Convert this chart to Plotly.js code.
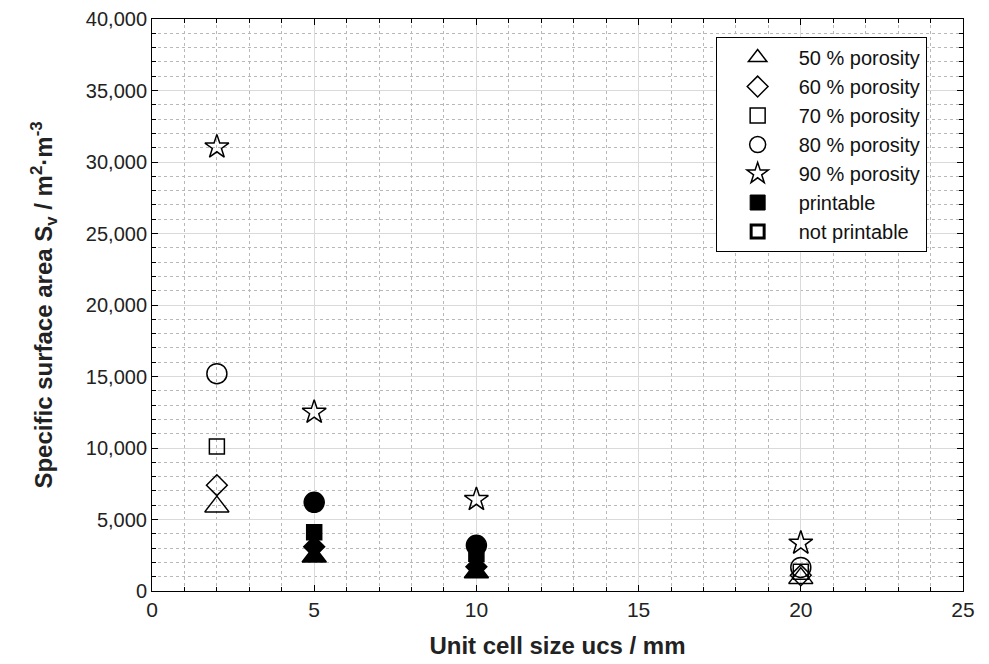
<!DOCTYPE html>
<html><head><meta charset="utf-8">
<script src="https://cdn.plot.ly/plotly-3.0.1.min.js"></script>
<style>html,body{margin:0;padding:0;background:#fff}#chart{width:989px;height:664px}</style>
</head><body><div id="chart"></div>
<script>
// Data
const ucs = [2, 5, 10, 20];
const por50 = [5900, 2400, 1300, 900];
const por60 = [7400, 3100, 1700, 1100];
const por70 = [10100, 4100, 2600, 1350];
const por80 = [15200, 6200, 3200, 1650];
const por90 = [31050, 12500, 6400, 3350];
const printable50 = [false, true, true, false];
const printable60 = [false, true, true, false];
const printable70 = [false, true, true, false];
const printable80 = [false, true, true, false];
const printable90 = [false, false, false, false];
const seriesNames = ['50 % porosity', '60 % porosity', '70 % porosity', '80 % porosity', '90 % porosity'];
const seriesValues = [por50, por60, por70, por80, por90];
const seriesPrintable = [printable50, printable60, printable70, printable80, printable90];
const seriesSymbols = ['triangle-up', 'diamond', 'square', 'circle', 'star'];
const seriesSizes = [21, 16, 15, 20, 18];

const traces = [];
seriesValues.forEach((vals, i) => {
  traces.push({
    type: 'scatter', mode: 'markers', x: ucs, y: vals, showlegend: false,
    hoverinfo: 'x+y',
    marker: {
      symbol: seriesPrintable[i].map(p => p ? seriesSymbols[i] : seriesSymbols[i] + '-open'),
      size: seriesSizes[i], color: '#000', line: {color: '#000', width: 1.5}
    }
  });
});
seriesNames.forEach((n, i) => {
  traces.push({
    type: 'scatter', mode: 'markers', x: [null], y: [null], name: n, showlegend: true,
    marker: {symbol: seriesSymbols[i] + '-open', size: seriesSizes[i], color: '#000', line: {color: '#000', width: 1.5}}
  });
});
traces.push({type: 'scatter', mode: 'markers', x: [null], y: [null], name: 'printable',
  marker: {symbol: 'square', size: 15, color: '#000', line: {color: '#000', width: 1}}});
traces.push({type: 'scatter', mode: 'markers', x: [null], y: [null], name: 'not printable',
  marker: {symbol: 'square-open', size: 13, color: '#000', line: {color: '#000', width: 3}}});

const axisCommon = {
  showline: true, linecolor: '#000', linewidth: 1, mirror: 'ticks',
  ticks: 'inside', ticklen: 6, tickcolor: '#000', tickwidth: 1,
  showgrid: true, gridcolor: '#dadada', gridwidth: 1, zeroline: false,
};
const layout = {
  width: 989, height: 664,
  margin: {l: 152, r: 26, t: 19, b: 73},
  paper_bgcolor: '#fff', plot_bgcolor: '#fff',
  font: {family: 'Liberation Sans, Arial, sans-serif', color: '#222'},
  xaxis: Object.assign({}, axisCommon, {
    range: [0, 25], dtick: 5, tick0: 0,
    tickfont: {size: 21, color: '#222'},
    minor: {dtick: 1, showgrid: true, gridcolor: '#b8b8b8', griddash: 'dot', ticks: 'inside', ticklen: 4, tickcolor: '#000'},
    title: {text: '<b>Unit cell size ucs / mm</b>', font: {size: 24, color: '#222'}, standoff: 16}
  }),
  yaxis: Object.assign({}, axisCommon, {
    range: [0, 40000], dtick: 5000, tick0: 0, tickformat: ',d',
    tickfont: {size: 20, color: '#222'},
    minor: {dtick: 1000, showgrid: true, gridcolor: '#b8b8b8', griddash: 'dot', ticks: 'inside', ticklen: 4, tickcolor: '#000'},
    title: {text: '<b>Specific surface area S<sub>v</sub> / m<sup>2</sup>·m<sup>-3</sup></b>', font: {size: 24, color: '#222'}, standoff: 26}
  }),
  legend: {
    x: 0.695, y: 0.9685, xanchor: 'left', yanchor: 'top',
    bgcolor: '#fff', bordercolor: '#000', borderwidth: 1,
    font: {size: 20, color: '#111'}, itemsizing: 'trace', itemwidth: 72
  },
  showlegend: true
};
Plotly.newPlot('chart', traces, layout, {displayModeBar: false, staticPlot: true});
</script></body></html>
